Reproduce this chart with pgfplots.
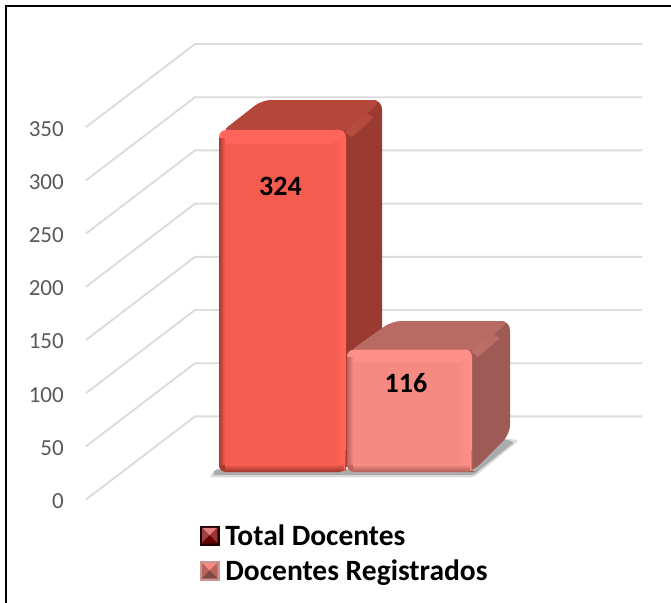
\documentclass[border=0pt]{standalone}
\usepackage{fontspec}
\setmainfont{Carlito}
\usepackage{pgfplots}
\pgfplotsset{compat=1.18}
\definecolor{gridc}{HTML}{DCDCDC}
\definecolor{tickc}{HTML}{595959}
\definecolor{redfront}{HTML}{F45C4F}
\definecolor{redlight}{HTML}{FF655A}
\definecolor{reddark}{HTML}{A83B30}
\definecolor{redtop}{HTML}{B5463A}
\definecolor{redside}{HTML}{9A3A31}
\definecolor{pinkfront}{HTML}{F68A82}
\definecolor{pinklight}{HTML}{FF9088}
\definecolor{pinkdark}{HTML}{B8645D}
\definecolor{pinktop}{HTML}{B96A62}
\definecolor{pinkside}{HTML}{9E5A54}
\newcommand{\legsq}[5]{%
  \fill[#1] (0pt,-9pt) rectangle (19pt,10pt);
  \fill[#2] (2pt,8pt) -- (17pt,8pt) -- (9.5pt,.5pt) -- cycle;
  \fill[#3] (2pt,8pt) -- (2pt,-7pt) -- (9.5pt,.5pt) -- cycle;
  \fill[#4] (17pt,8pt) -- (17pt,-7pt) -- (9.5pt,.5pt) -- cycle;
  \fill[#5] (2pt,-7pt) -- (17pt,-7pt) -- (9.5pt,.5pt) -- cycle;
}
\pgfplotsset{
  canvas/.style={
    width=671pt, height=602pt, scale only axis,
    xmin=0, xmax=671, clip=false,
    /pgf/number format/assume math mode=true,
  },
  grid line/.style={gridc, line width=1.9pt, no marks, forget plot},
  face/.style={draw=none, no marks, forget plot},
}
\begin{document}
\begin{tikzpicture}
\useasboundingbox (0,0) rectangle (671pt,602pt);
% y scale of the front wall: 0 at pixel 499.5, 350 at pixel 127
\begin{axis}[
    canvas,
    ymin=-96.3, ymax=469.5,
    axis line style={draw=none},
    xtick=\empty,
    ytick={0,50,100,150,200,250,300,350},
    tick style={draw=none},
    yticklabel style={anchor=east, inner sep=0pt, xshift=64pt, yshift=-1.5pt, font=\fontsize{23}{27}\selectfont, text=tickc},
]
\addplot[grid line] coordinates {(86,0) (195,78.1) (642,78.1)};
\addplot[grid line] coordinates {(86,50) (195,128.1) (642,128.1)};
\addplot[grid line] coordinates {(86,100) (195,178.1) (642,178.1)};
\addplot[grid line] coordinates {(86,150) (195,228.1) (642,228.1)};
\addplot[grid line] coordinates {(86,200) (195,278.1) (642,278.1)};
\addplot[grid line] coordinates {(86,250) (195,328.1) (642,328.1)};
\addplot[grid line] coordinates {(86,300) (195,378.1) (642,378.1)};
\addplot[grid line] coordinates {(86,350) (195,428.1) (642,428.1)};
\end{axis}
% bars: base of the front faces sits at pixel 472
\begin{axis}[
    canvas,
    ymin=-123.15, ymax=447.14,
    hide axis,
    legend style={
      at={(200pt,79pt)}, anchor=north west, draw=none, fill=none,
      inner sep=0pt, outer sep=0pt,
      font=\fontsize{29.5}{33}\selectfont\bfseries,
      row sep=9pt,
      /tikz/every odd column/.append style={column sep=4pt},
    },
    legend cell align=left,
]
\addlegendimage{legend image code/.code={\legsq{black!88!red}{red!45!white!90!black}{black!30!red!50!gray}{black!30!red!60!gray}{black!60!red}}}
\addlegendentry{Total Docentes}
\addlegendimage{legend image code/.code={\legsq{pinkdark!70!white}{pinkfront}{pinkdark}{pinkdark}{pinkside!80!black}}}
\addlegendentry{Docentes Registrados}
% shadow on the floor
\addplot[face, fill=black, opacity=.14, rounded corners=3pt] coordinates {(209,-5) (474,-5) (519,30) (505,32) (470,2) (215,2)} --cycle;
\addplot[face, fill=black, opacity=.22, rounded corners=2pt] coordinates {(213,-3) (473,-3) (514,28) (500,33) (470,3) (215,3)} --cycle;
% total docentes, side and top
\addplot[face, fill=redside, rounded corners=9pt] coordinates {(340,0) (382,30) (382,352.4) (300,352.4) (340,300)} --cycle;
\addplot[face, fill=redtop, rounded corners=9pt] coordinates {(221,322) (262,352.4) (382,352.4) (346,322)} --cycle;
\addplot[face, shade, left color=redtop!96!white, right color=redtop] coordinates {(345,322) (366,340) (374,336) (352,317)} --cycle;
% docentes registrados, side and top
\addplot[face, fill=pinkside, rounded corners=9pt] coordinates {(468,0) (472,0) (510,36) (510,143) (430,143) (468,100)} --cycle;
\addplot[face, fill=pinktop, rounded corners=9pt] coordinates {(349,114) (392,143) (510,143) (472,114)} --cycle;
\addplot[face, shade, left color=pinktop!96!white, right color=pinktop] coordinates {(471,114) (492,131) (500,127) (478,109)} --cycle;
% front faces
\addplot[ybar, bar width=127pt, bar shift=0pt, draw=none, fill=redlight, rounded corners=7pt, forget plot,
    nodes near coords, every node near coord/.style={anchor=center, xshift=-2pt, yshift=-56pt, text=black, font=\fontsize{28}{32}\selectfont\bfseries}]
  coordinates {(282.5,324)};
\addplot[ybar, bar width=125pt, bar shift=0pt, draw=none, fill=pinklight, rounded corners=7pt, forget plot,
    nodes near coords, every node near coord/.style={anchor=center, xshift=-3.5pt, yshift=-33pt, text=black, font=\fontsize{28}{32}\selectfont\bfseries}]
  coordinates {(409.5,116)};
% bevels of the front faces
\addplot[face, fill=reddark, rounded corners=7pt] coordinates {(219,0) (219,20) (346,20) (346,0)} --cycle;
\addplot[face, fill=redfront] coordinates {(222,7) (222,311) (333,311) (333,7)} --cycle;
\addplot[face, shade, left color=redfront, right color=redlight] coordinates {(333,7) (333,311) (344,318) (344,7)} --cycle;
\addplot[face, shade, left color=redlight, right color=reddark] coordinates {(344,1) (344,20) (346,20) (346,1)} --cycle;
\addplot[face, shade, left color=reddark, right color=redfront] coordinates {(219,7) (219,316) (225,316) (225,7)} --cycle;
\addplot[face, shade, top color=redfront, bottom color=reddark] coordinates {(225,7) (344,7) (344,1) (225,1)} --cycle;
\addplot[face, fill=pinkdark, rounded corners=7pt] coordinates {(347,0) (347,20) (472,20) (472,0)} --cycle;
\addplot[face, fill=pinkfront] coordinates {(350,7) (350,104) (459,104) (459,7)} --cycle;
\addplot[face, shade, left color=pinkfront, right color=pinklight] coordinates {(459,7) (459,104) (470,110) (470,7)} --cycle;
\addplot[face, shade, left color=pinklight, right color=pinkdark] coordinates {(470,1) (470,20) (472,20) (472,1)} --cycle;
\addplot[face, shade, left color=pinkdark, right color=pinkfront] coordinates {(347,7) (347,108) (353,108) (353,7)} --cycle;
\addplot[face, shade, top color=pinkfront, bottom color=pinkdark] coordinates {(353,7) (470,7) (470,1) (353,1)} --cycle;
\end{axis}
% frame of the chart area
\draw[black, line width=2pt] (6pt,-2pt) -- (6pt,596pt) -- (673pt,596pt);
\end{tikzpicture}
\end{document}
